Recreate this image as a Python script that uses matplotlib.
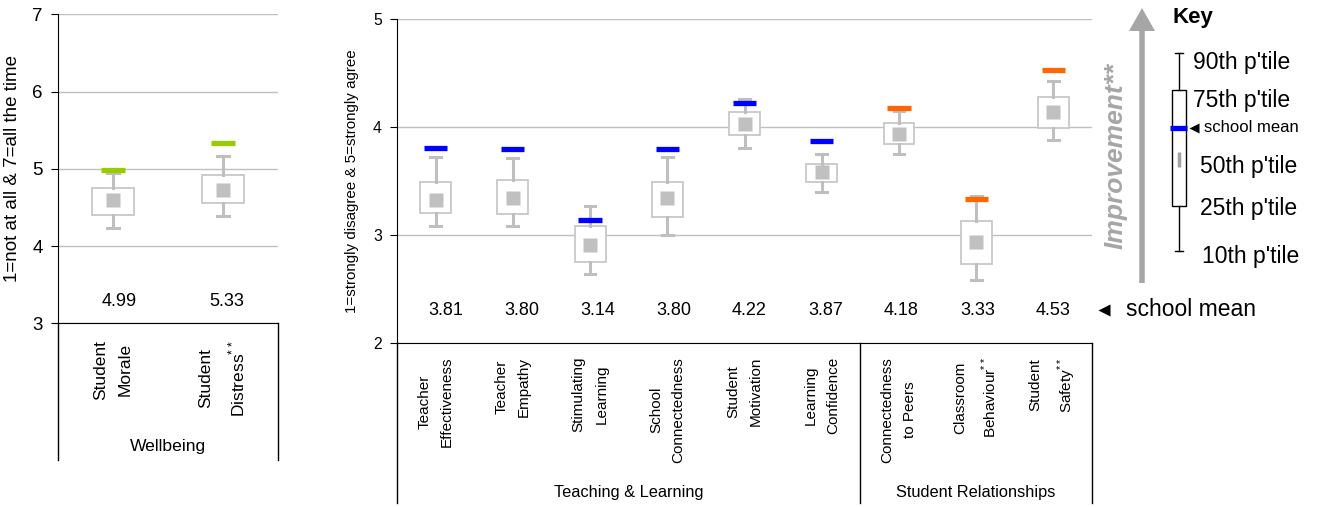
import matplotlib
matplotlib.use("Agg")
import matplotlib.pyplot as plt
import numpy as np
from matplotlib import font_manager
from matplotlib.patches import FancyArrow, Rectangle

# ---- data -------------------------------------------------------------
wb_labels = ["Student\nMorale", "Student\nDistress$^{**}$"]
wb_mean = [4.99, 5.33]
wb_p10 = [4.23, 4.39]
wb_p25 = [4.40, 4.56]
wb_p50 = [4.60, 4.72]
wb_p75 = [4.75, 4.92]
wb_p90 = [4.95, 5.17]

tl_labels = ["Teacher\nEffectiveness", "Teacher\nEmpathy", "Stimulating\nLearning",
             "School\nConnectedness", "Student\nMotivation", "Learning\nConfidence",
             "Connectedness\nto Peers", "Classroom\nBehaviour$^{**}$", "Student\nSafety$^{**}$"]
tl_mean = [3.81, 3.80, 3.14, 3.80, 4.22, 3.87, 4.18, 3.33, 4.53]
tl_p10 = [3.08, 3.08, 2.64, 3.00, 3.81, 3.40, 3.75, 2.58, 3.88]
tl_p25 = [3.20, 3.19, 2.75, 3.17, 3.93, 3.49, 3.84, 2.73, 3.99]
tl_p50 = [3.32, 3.34, 2.91, 3.34, 4.03, 3.58, 3.94, 2.93, 4.14]
tl_p75 = [3.49, 3.51, 3.08, 3.49, 4.14, 3.66, 4.04, 3.13, 4.28]
tl_p90 = [3.72, 3.71, 3.27, 3.72, 4.26, 3.75, 4.15, 3.36, 4.43]
tl_group = ["T", "T", "T", "T", "T", "T", "R", "R", "R"]

BLUE = "#0000FF"
ORANGE = "#FF6600"
GREEN = "#99CC00"
BOXC = "#C8C8C8"
WHISK = "#BFBFBF"
MEDC = "#C0C0C0"
GRID = "#C0C0C0"

names = {f.name for f in font_manager.fontManager.ttflist}
HAS_NARROW = "Liberation Sans Narrow" in names
NARROW = "Liberation Sans Narrow" if HAS_NARROW else "Liberation Sans"
NS = 1.0 if HAS_NARROW else 0.84

plt.rcParams["font.family"] = ["Liberation Sans", "DejaVu Sans"]
plt.rcParams["mathtext.fontset"] = "custom"
plt.rcParams["mathtext.rm"] = "Liberation Sans"

W, H = 1321, 507
fig = plt.figure(figsize=(W / 100, H / 100), dpi=100)


def draw_panel(ax, labels, mean, p10, p25, p50, p75, p90, colors,
               ylim, width, capw, barhalf, msize, val_y, val_shift, lab_y, lab_fs):
    pos = [i + 0.5 for i in range(len(labels))]
    stats = [dict(med=m, q1=a, q3=b, whislo=lo, whishi=hi, fliers=[])
             for m, a, b, lo, hi in zip(p50, p25, p75, p10, p90)]
    ax.bxp(stats, positions=pos, widths=width, patch_artist=True, showfliers=False,
           capwidths=capw,
           boxprops=dict(facecolor="white", edgecolor=BOXC, linewidth=1.3),
           whiskerprops=dict(color=WHISK, linewidth=2.2),
           capprops=dict(color=WHISK, linewidth=2.2),
           medianprops=dict(visible=False), manage_ticks=False, zorder=3)
    ax.plot(pos, p50, "s", ms=msize, color=MEDC, mec="none", zorder=4)
    ax.hlines(mean, [p - barhalf for p in pos], [p + barhalf for p in pos],
              colors=colors, linewidth=3.8, zorder=5, capstyle="butt")
    # value labels drift slightly from the box centres in the original
    shifts = np.linspace(val_shift[0], val_shift[1], len(pos))
    for p, s, m in zip(pos, shifts, mean):
        ax.text(p + s, val_y, f"{m:.2f}", ha="center", va="center", fontsize=13)
    for p, lab in zip(pos, labels):
        ax.text(p, lab_y, lab, transform=ax.get_xaxis_transform(), rotation=90,
                ha="center", va="top", multialignment="center", linespacing=1.8,
                fontsize=lab_fs, clip_on=False)
    ax.set_xlim(0, len(labels))
    ax.set_ylim(*ylim)
    ax.set_xticks([])
    for s in ("top", "right"):
        ax.spines[s].set_visible(False)
    ax.spines["left"].set_color("black")
    ax.spines["bottom"].set_color("black")
    ax.yaxis.grid(True, color=GRID, linewidth=1)
    ax.set_axisbelow(True)
    ax.tick_params(axis="y", length=5, direction="out")
    return pos


# ---- left panel: wellbeing -------------------------------------------
ax1 = fig.add_axes([58 / W, 1 - 323.3 / H, 220 / W, 309 / H])
draw_panel(ax1, wb_labels, wb_mean, wb_p10, wb_p25, wb_p50, wb_p75, wb_p90,
           [GREEN] * 2, (3, 7), 0.39, 0.11, 0.105, 10, 3.28, (0.055, 0.036),
           -0.054, 12.5)
ax1.set_yticks([3, 4, 5, 6, 7])
ax1.tick_params(axis="y", labelsize=13.5, pad=6)
ax1.set_ylabel("1=not at all & 7=all the time", fontsize=13.5, labelpad=8)
for x in (0, 2):
    ax1.plot([x, x], [0, -0.442], transform=ax1.get_xaxis_transform(),
             color="black", lw=1, clip_on=False)
ax1.text(1.0, -0.400, "Wellbeing", transform=ax1.get_xaxis_transform(),
         ha="center", va="center", fontsize=15 * NS, family=NARROW)

# ---- middle panel: teaching & learning / relationships ---------------
ax2 = fig.add_axes([397 / W, 1 - 342.7 / H, 695 / W, 323.4 / H])
cols = [BLUE if g == "T" else ORANGE for g in tl_group]
draw_panel(ax2, tl_labels, tl_mean, tl_p10, tl_p25, tl_p50, tl_p75, tl_p90,
           cols, (2, 5), 0.40, 0.14, 0.15, 9.5, 2.30, (0.13, 0.0), -0.044, 11)
ax2.set_yticks([2, 3, 4, 5])
for t in ax2.get_yticklabels():
    t.set_family(NARROW)
ax2.tick_params(axis="y", labelsize=13.5 * NS, pad=6)
ax2.set_ylabel("1=strongly disagree & 5=strongly agree", fontsize=13 * NS,
               family=NARROW, labelpad=10)
n_teach = tl_group.count("T")
for x in (0, n_teach, len(tl_labels)):
    ax2.plot([x, x], [0, -0.496], transform=ax2.get_xaxis_transform(),
             color="black", lw=1, clip_on=False)
ax2.text(n_teach / 2, -0.462, "Teaching & Learning", transform=ax2.get_xaxis_transform(),
         ha="center", va="center", fontsize=14 * NS, family=NARROW)
ax2.text((n_teach + len(tl_labels)) / 2, -0.462, "Student Relationships",
         transform=ax2.get_xaxis_transform(),
         ha="center", va="center", fontsize=14 * NS, family=NARROW)

# ---- key (pixel coordinates) -----------------------------------------
ov = fig.add_axes([0, 0, 1, 1])
ov.set_xlim(0, W)
ov.set_ylim(H, 0)
ov.set_axis_off()

ov.add_patch(FancyArrow(1142, 283, 0, -252, width=5.5, head_width=26, head_length=23,
                        length_includes_head=False, color="#A6A6A6", lw=0))
ov.text(1116, 156, "Improvement**", rotation=90, ha="center", va="center",
        fontsize=19, fontweight="bold", fontstyle="italic", color="#A6A6A6")

ov.text(1172, 17, "Key", ha="left", va="center", fontsize=16, fontweight="bold")
ov.plot([1179, 1179], [53, 90], color="black", lw=1)
ov.plot([1179, 1179], [206, 251], color="black", lw=1)
ov.plot([1175, 1183], [53, 53], color="black", lw=1)
ov.plot([1175, 1183], [251, 251], color="black", lw=1)
ov.add_patch(Rectangle((1172, 90), 14, 116, facecolor="white", edgecolor="black", lw=1))
ov.plot([1170, 1187], [128, 128], color=BLUE, lw=3.8, solid_capstyle="butt")
ov.plot([1179, 1179], [152, 167], color="#A0A0A0", lw=2.5, solid_capstyle="butt")
ov.plot([1194], [128], marker="<", ms=7, color="black", mec="none")
ov.text(1204, 128, "school mean", ha="left", va="center", fontsize=12)
for y, t, x in [(63, "90th p'tile", 1193), (100, "75th p'tile", 1193),
                (167, "50th p'tile", 1200), (208, "25th p'tile", 1200),
                (257, "10th p'tile", 1202)]:
    ov.text(x, y, t, ha="left", va="center", fontsize=16.5)

ov.plot([1104], [310], marker="<", ms=8, color="black", mec="none")
ov.text(1126, 310, "school mean", ha="left", va="center", fontsize=16.5)

fig.savefig("out.png", dpi=100)
